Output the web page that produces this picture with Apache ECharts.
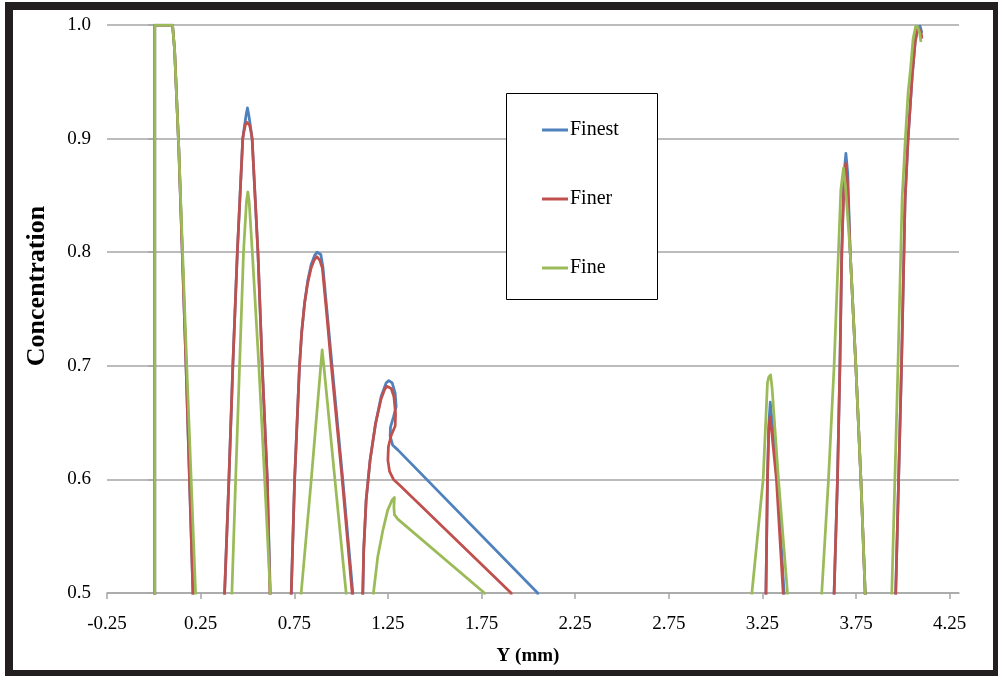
<!DOCTYPE html>
<html><head><meta charset="utf-8">
<script src="https://cdn.jsdelivr.net/npm/echarts@6/dist/echarts.min.js"></script>
<style>html,body{margin:0;padding:0;background:#fff}#c{width:998px;height:676px}</style>
</head><body><div id="c"></div>
<script>
const seriesNames = ['Finest', 'Finer', 'Fine'];
const xTickValues = [-0.25, 0.25, 0.75, 1.25, 1.75, 2.25, 2.75, 3.25, 3.75, 4.25];
const yTickValues = [0.5, 0.6, 0.7, 0.8, 0.9, 1.0];

const finestX = [0.005,0.005,0.1,0.111,0.133,0.172,0.209,0.25,
  0.34,0.378,0.401,0.422,0.446,0.475,0.485,0.493,0.5,0.507,0.515,0.525,0.556,0.579,0.606,0.622,0.66,
  0.70,0.734,0.752,0.778,0.79,0.805,0.822,0.84,0.858,0.872,0.881,0.892,0.903,0.925,0.952,1.009,1.063,1.09,
  1.10,1.116,1.121,1.134,1.155,1.184,1.214,1.241,1.255,1.273,1.289,1.294,1.280,1.264,1.262,1.276,1.303,2.050,2.2,
  3.24,3.269,3.277,3.285,3.292,3.30,3.33,3.366,3.40,
  3.60,3.633,3.651,3.664,3.674,3.686,3.696,3.706,3.719,3.749,3.776,3.799,3.83,
  3.93,3.962,3.993,4.012,4.028,4.05,4.066,4.08,4.092,4.102];
const finestC = [0,1.0,1.0,0.978,0.893,0.7,0.5,0,
  0,0.5,0.6,0.7,0.8,0.9,0.912,0.921,0.927,0.921,0.912,0.9,0.8,0.7,0.6,0.5,0,
  0,0.5,0.6,0.7,0.73,0.755,0.775,0.789,0.797,0.8,0.801,0.798,0.787,0.748,0.7,0.6,0.5,0,
  0,0.5,0.538,0.582,0.617,0.649,0.673,0.685,0.687,0.685,0.676,0.664,0.655,0.646,0.638,0.630,0.626,0.5,0,
  0,0.5,0.6,0.65,0.668,0.655,0.6,0.5,0,
  0,0.5,0.6,0.7,0.8,0.869,0.887,0.869,0.8,0.7,0.6,0.5,0,
  0,0.5,0.7,0.846,0.9,0.955,0.985,0.998,0.999,0.993];

const finerX = [0.005,0.005,0.1,0.111,0.133,0.172,0.209,0.25,
  0.34,0.378,0.401,0.422,0.446,0.475,0.482,0.489,0.4955,0.5,0.5045,0.511,0.518,0.525,0.556,0.579,0.606,0.62,0.66,
  0.70,0.734,0.752,0.778,0.79,0.805,0.822,0.84,0.856,0.871,0.886,0.9,0.922,0.948,1.006,1.059,1.09,
  1.10,1.116,1.121,1.134,1.155,1.184,1.214,1.232,1.244,1.268,1.282,1.291,1.289,1.268,1.253,1.250,1.259,1.280,1.312,1.908,2.05,
  3.24,3.269,3.277,3.284,3.291,3.298,3.325,3.361,3.40,
  3.60,3.633,3.651,3.664,3.674,3.686,3.695,3.704,3.719,3.749,3.776,3.799,3.83,
  3.93,3.962,3.993,4.012,4.028,4.05,4.066,4.08,4.09,4.098,4.102];
const finerC = [0,1.0,1.0,0.978,0.893,0.7,0.5,0,
  0,0.5,0.6,0.7,0.8,0.9,0.907,0.912,0.9145,0.915,0.9145,0.912,0.907,0.9,0.8,0.7,0.6,0.5,0,
  0,0.5,0.6,0.7,0.73,0.755,0.773,0.786,0.793,0.796,0.793,0.786,0.748,0.7,0.6,0.5,0,
  0,0.5,0.538,0.582,0.617,0.649,0.671,0.679,0.682,0.680,0.673,0.658,0.647,0.639,0.629,0.617,0.607,0.600,0.595,0.5,0,
  0,0.5,0.6,0.645,0.655,0.645,0.6,0.5,0,
  0,0.5,0.6,0.7,0.8,0.862,0.878,0.862,0.8,0.7,0.6,0.5,0,
  0,0.5,0.7,0.846,0.9,0.955,0.985,0.998,0.997,0.993,0.988];

const fineX = [0.005,0.005,0.1,0.111,0.133,0.176,0.223,0.26,
  0.38,0.417,0.437,0.458,0.479,0.495,0.502,0.509,0.526,0.561,0.592,0.622,0.66,
  0.75,0.787,0.841,0.884,0.899,0.908,0.967,1.027,1.06,
  1.14,1.173,1.196,1.223,1.249,1.273,1.285,1.282,1.285,1.303,1.766,1.9,
  3.16,3.194,3.254,3.277,3.284,3.294,3.302,3.336,3.384,3.42,
  3.53,3.567,3.603,3.633,3.656,3.669,3.683,3.695,3.719,3.749,3.776,3.799,3.83,
  3.91,3.941,3.974,3.996,4.0135,4.028,4.042,4.055,4.069,4.08,4.09,4.097];
const fineC = [0,1.0,1.0,0.978,0.893,0.7,0.5,0,
  0,0.5,0.6,0.7,0.8,0.845,0.853,0.845,0.8,0.7,0.6,0.5,0,
  0,0.5,0.6,0.685,0.714,0.7,0.6,0.5,0,
  0,0.5,0.532,0.555,0.573,0.582,0.584,0.576,0.569,0.565,0.5,0,
  0,0.5,0.6,0.685,0.69,0.692,0.68,0.6,0.5,0,
  0,0.5,0.6,0.7,0.8,0.855,0.874,0.855,0.8,0.7,0.6,0.5,0,
  0,0.5,0.7,0.846,0.9,0.94,0.963,0.988,0.999,0.998,0.993,0.985];

const colors = ['#4F81BD', '#C0504D', '#9BBB59'];
const xs = [finestX, finerX, fineX];
const cs = [finestC, finerC, fineC];
const serif = '"Liberation Serif", "Times New Roman", serif';
const gridColor = '#a6a6a6';

function pairs(a, b) { return a.map((v, i) => [v, b[i]]); }

const chart = echarts.init(document.getElementById('c'), null, {renderer: 'canvas'});
chart.setOption({
  animation: false,
  backgroundColor: '#fff',
  grid: {left: 107, right: 39, top: 25, bottom: 83},
  xAxis: {
    type: 'value', min: -0.25, max: 4.3, interval: 0.5,
    axisLine: {show: true, onZero: false, lineStyle: {color: gridColor, width: 1.5}},
    axisTick: {show: true, length: 6, customValues: xTickValues, lineStyle: {color: gridColor, width: 1.5}},
    axisLabel: {customValues: xTickValues, margin: 22, fontFamily: serif, fontSize: 19, color: '#000',
      formatter: v => String(v)},
    splitLine: {show: false}
  },
  yAxis: {
    type: 'value', min: 0.5, max: 1.0, interval: 0.1,
    axisLine: {show: true, lineStyle: {color: gridColor, width: 1.5}},
    axisTick: {show: true, length: 6, customValues: yTickValues, lineStyle: {color: gridColor, width: 1.5}},
    axisLabel: {customValues: yTickValues, margin: 16, fontFamily: serif, fontSize: 19, color: '#000',
      formatter: v => Number(v).toFixed(1)},
    splitLine: {show: true, lineStyle: {color: gridColor, width: 1.5}}
  },
  legend: {
    data: seriesNames, orient: 'vertical', left: 542, top: 120, padding: 0,
    icon: 'rect', itemWidth: 26, itemHeight: 3, itemGap: 49,
    textStyle: {fontFamily: serif, fontSize: 20, color: '#000', lineHeight: 20, padding: [0, 0, 0, -3]}
  },
  graphic: [
    {type: 'rect', z: 3, shape: {x: 506.5, y: 93.5, width: 151, height: 206},
      style: {fill: '#fff', stroke: '#000', lineWidth: 1}},
    {type: 'rect', z: 10, shape: {x: 9, y: 6, width: 988, height: 668},
      style: {fill: 'none', stroke: '#231f20', lineWidth: 8}},
    {type: 'text', z: 5, x: 528, y: 656,
      style: {text: 'Y (mm)', font: 'bold 19px ' + serif, fill: '#000',
        align: 'center', verticalAlign: 'middle', textAlign: 'center', textVerticalAlign: 'middle'}},
    {type: 'text', z: 5, x: 37, y: 286, rotation: Math.PI / 2,
      style: {text: 'Concentration', font: 'bold 26px ' + serif, fill: '#000',
        align: 'center', verticalAlign: 'middle', textAlign: 'center', textVerticalAlign: 'middle'}}
  ],
  series: seriesNames.map((name, i) => ({
    name: name, type: 'line', symbol: 'none', showSymbol: false, smooth: false,
    clip: true, z: 2 + i,
    data: pairs(xs[i], cs[i]),
    lineStyle: {color: colors[i], width: 2.75, join: 'round'},
    itemStyle: {color: colors[i]}
  }))
});
</script></body></html>
